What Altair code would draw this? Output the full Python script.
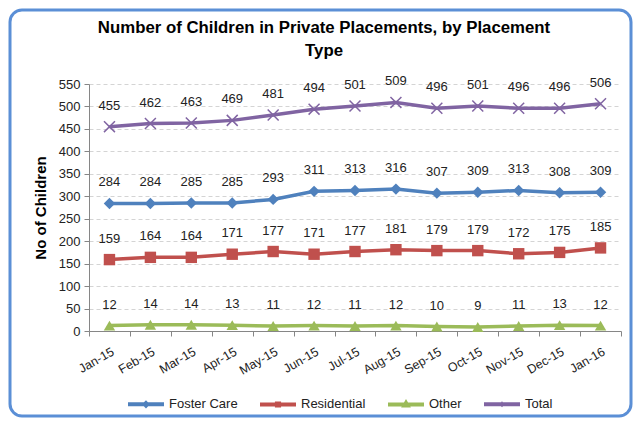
import altair as alt
import pandas as pd

months = ["Jan-15", "Feb-15", "Mar-15", "Apr-15", "May-15", "Jun-15", "Jul-15",
          "Aug-15", "Sep-15", "Oct-15", "Nov-15", "Dec-15", "Jan-16"]
series = ["Foster Care", "Residential", "Other", "Total"]
foster_care = [284, 284, 285, 285, 293, 311, 313, 316, 307, 309, 313, 308, 309]
residential = [159, 164, 164, 171, 177, 171, 177, 181, 179, 179, 172, 175, 185]
other = [12, 14, 14, 13, 11, 12, 11, 12, 10, 9, 11, 13, 12]
total = [455, 462, 463, 469, 481, 494, 501, 509, 496, 501, 496, 496, 506]
colors = ["#4F81BD", "#C0504D", "#9BBB59", "#8064A2"]
y_ticks = list(range(0, 551, 50))

FONT = "Liberation Sans"
X_PATH = "M-1,-1L1,1M-1,1L1,-1"
marker_shapes = ["diamond", "square", "triangle-up", X_PATH]
legend_paths = [
    "M-1,0H1M0,-0.07L0.07,0L0,0.07L-0.07,0Z",
    "M-1,0H1M-0.06,-0.06H0.06V0.06H-0.06Z",
    "M-1,0H1M0,-0.08L0.08,0.06H-0.08Z",
    "M-1,0H1M-0.08,-0.08L0.08,0.08M-0.08,0.08L0.08,-0.08",
]

rows = []
for name, vals in zip(series, [foster_care, residential, other, total]):
    for m, v in zip(months, vals):
        rows.append({"Month": m, "Series": name, "Value": v})
df = pd.DataFrame(rows)

legend = alt.Legend(
    title=None, orient="none", legendX=37, legendY=300, direction="horizontal",
    columns=4, symbolSize=1296, labelOffset=3, columnPadding=14,
    symbolStrokeWidth=4, symbolOpacity=1,
    labelFont=FONT, labelFontSize=13, labelColor="#222222",
)

color_scale = alt.Scale(domain=series, range=colors)

x_enc = alt.X(
    "Month:N", sort=months,
    scale=alt.Scale(type="band", paddingInner=0, paddingOuter=0),
    axis=alt.Axis(title=None, labelAngle=-30, tickBand="extent", grid=False,
                  domainColor="#868686", tickColor="#868686", tickSize=5,
                  labelFont=FONT, labelFontSize=12.5, labelColor="#222222",
                  labelPadding=9),
)
y_enc = alt.Y(
    "Value:Q", scale=alt.Scale(domain=[0, 550], nice=False),
    axis=alt.Axis(title="No of Children", values=y_ticks, grid=True,
                  gridDash=[4, 3], gridColor="#d4d4d4", domainColor="#868686",
                  tickColor="#868686", tickSize=5, labelFont=FONT,
                  labelFontSize=13, labelColor="#222222", labelPadding=4,
                  titleFont=FONT, titleFontSize=15, titleFontWeight="bold",
                  titleColor="#000000", titlePadding=10),
)

base = alt.Chart(df)

border = alt.Chart(pd.DataFrame({"a": [0]})).mark_rect(
    filled=False, fillOpacity=0, stroke="#5B8FD6", strokeWidth=3, cornerRadius=12
).encode(x=alt.value(-79), x2=alt.value(542), y=alt.value(-74), y2=alt.value(332))

# empty layer that only carries the legend (line + marker symbols)
legend_layer = base.transform_filter("false").mark_point(
    filled=False, opacity=1, strokeWidth=4
).encode(
    x=x_enc, y=y_enc,
    color=alt.Color("Series:N", scale=color_scale, sort=series, legend=legend),
    shape=alt.Shape("Series:N", scale=alt.Scale(domain=series, range=legend_paths),
                    sort=series, legend=legend),
)

lines = base.mark_line(strokeWidth=3.5).encode(
    x=x_enc, y=y_enc,
    color=alt.Color("Series:N", scale=color_scale, sort=series),
    detail="Series:N",
)

point_layers = []
for s, shp in zip(series, marker_shapes):
    filled = s != "Total"
    pl = base.transform_filter(alt.datum.Series == s).mark_point(
        shape=shp, filled=filled, size=130 if filled else 120,
        strokeWidth=1.5, opacity=1
    ).encode(
        x=x_enc, y=y_enc,
        color=alt.Color("Series:N", scale=color_scale, sort=series),
    )
    point_layers.append(pl)

labels = base.mark_text(dy=-21, fontSize=13, font=FONT, color="#222222").encode(
    x=x_enc, y=y_enc, text="Value:Q",
)

chart = alt.layer(border, legend_layer, lines, *point_layers, labels).properties(
    width=532, height=247,
    title=alt.TitleParams(
        ["Number of Children in Private Placements, by Placement", "Type"],
        font=FONT, fontSize=16.8, fontWeight="bold", color="#000000",
        anchor="middle", lineHeight=23, offset=-51, dx=-31,
    ),
    autosize=alt.AutoSizeParams(type="none"),
    padding={"left": 81, "top": 76, "right": 12, "bottom": 87},
    background="white",
).configure_view(stroke=None)

chart.save("out.html", embed_options={"renderer": "svg", "actions": False})
